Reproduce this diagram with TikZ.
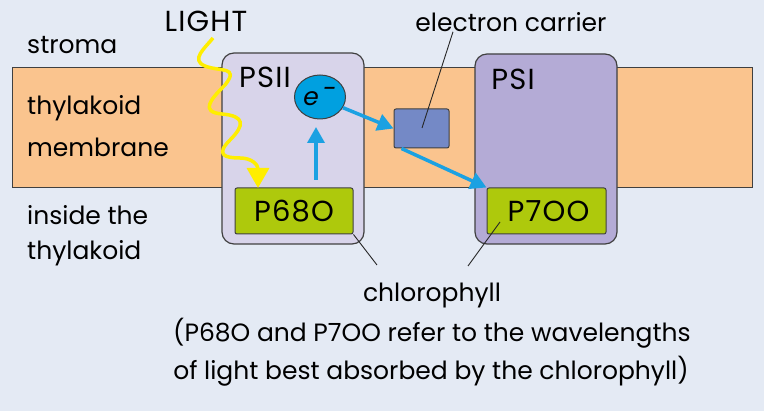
\documentclass[tikz,border=0pt]{standalone}
\usepackage{fontspec}
\setmainfont{Poppins}
\newfontfamily\capsfont[LetterSpace=4]{Poppins}
\usetikzlibrary{arrows.meta,shapes.geometric}
\definecolor{bg}{HTML}{E4EAF4}
\definecolor{memb}{HTML}{FAC48E}
\definecolor{psii}{HTML}{D8D4EA}
\definecolor{psi}{HTML}{B4ABD6}
\definecolor{lime}{HTML}{AEC90C}
\definecolor{carrier}{HTML}{7489C6}
\definecolor{ecol}{HTML}{00A0E0}
\definecolor{arr}{HTML}{1BA1E2}
\definecolor{lightc}{HTML}{FFEE00}
\definecolor{edge}{HTML}{404040}
\tikzset{
  txt/.style={font=\fontsize{25}{30}\selectfont, text=black, inner sep=0pt},
  capstxt/.style={font=\capsfont\fontsize{29}{34}\selectfont, text=black, inner sep=0pt},
  complex/.style={draw=edge, line width=1.2pt, rounded corners=12pt},
  pigment/.style={draw=edge, line width=1pt, fill=lime, rounded corners=2pt},
  eflow/.style={draw=arr, line width=3.5pt, -{Triangle[length=16pt,width=17pt]}},
  leader/.style={draw=black!85, line width=0.9pt},
}
\begin{document}
\begin{tikzpicture}[x=1pt,y=-1pt]
\path[fill=bg] (0,0) rectangle (764,411);
\useasboundingbox (0,0) rectangle (764,411);
% membrane
\path[fill=memb,draw=edge,line width=1pt] (12,68) rectangle (752,188);
% complexes
\path[complex, fill=psii] (222,53) rectangle (364,244);
\path[complex, fill=psi] (475,54) rectangle (617,244);
\node[pigment, minimum width=118pt, minimum height=46pt, capstxt] (p680) at (294,211) {P68O};
\node[pigment, minimum width=119pt, minimum height=46pt, capstxt] (p700) at (546.5,211) {\hspace*{4pt}P7OO};
\node[draw=edge, line width=1pt, fill=carrier, rounded corners=2pt, minimum width=55pt, minimum height=39pt, inner sep=0pt] (carr) at (421.5,128.5) {};
\node[ellipse, draw=edge, line width=1pt, fill=ecol, minimum width=51pt, minimum height=44pt, inner sep=0pt, txt] (elec) at (320,97) {\itshape e\raisebox{8pt}{\,-}};
% labels
\node[capstxt] (light) at (206,21) {LIGHT};
\node[txt, anchor=west] (stroma) at (27,45) {stroma};
\node[txt, anchor=west] (thy1) at (27,108) {thylakoid};
\node[txt, anchor=west] (memb) at (27,147) {membrane};
\node[txt, anchor=west] (ins) at (27,215) {inside the};
\node[txt, anchor=west] (thy2) at (27,253) {thylakoid};
\node[capstxt] (psiilab) at (265,77) {PSII};
\node[capstxt] (psilab) at (513,79) {PSI};
\node[txt] (ecarr) at (511,22) {electron carrier};
\node[txt] (chl) at (432,296) {chlorophyll};
\node[txt] (note1) at (432,333) {(P68O and P7OO refer to the wavelengths};
\node[txt] (note2) at (431,371) {of light best absorbed by the chlorophyll)};
% light wave
\coordinate (ls) at (213,38);
\coordinate (lt) at (258,188);
\draw[lightc, line width=3.5pt, line join=round, -{Triangle[length=20pt,width=22pt]}]
  (ls) .. controls (205,48) and (190,60) .. (205,66)
  .. controls (220,72) and (240,66) .. (225,85)
  .. controls (210,100) and (200,112) .. (222,114)
  .. controls (245,116) and (245,125) .. (230,140)
  .. controls (215,155) and (225,158) .. (240,158)
  .. controls (252,158) and (258,165) .. (lt);
% electron flow
\coordinate (up1) at (316,180);
\draw[eflow] (up1) -- (316,127);
\draw[eflow] (elec.-25) -- (carr.west);
\draw[eflow] (carr.-135) -- (p700.north west);
% leaders
\draw[leader] (ecarr.south) ++(-58,0) coordinate (ecs) -- (422,128);
\coordinate (chlA) at (377,265);
\coordinate (chlB) at (468,266);
\draw[leader] (p680.south east) -- (chlA);
\draw[leader] (500,222) -- (chlB);
\end{tikzpicture}
\end{document}
